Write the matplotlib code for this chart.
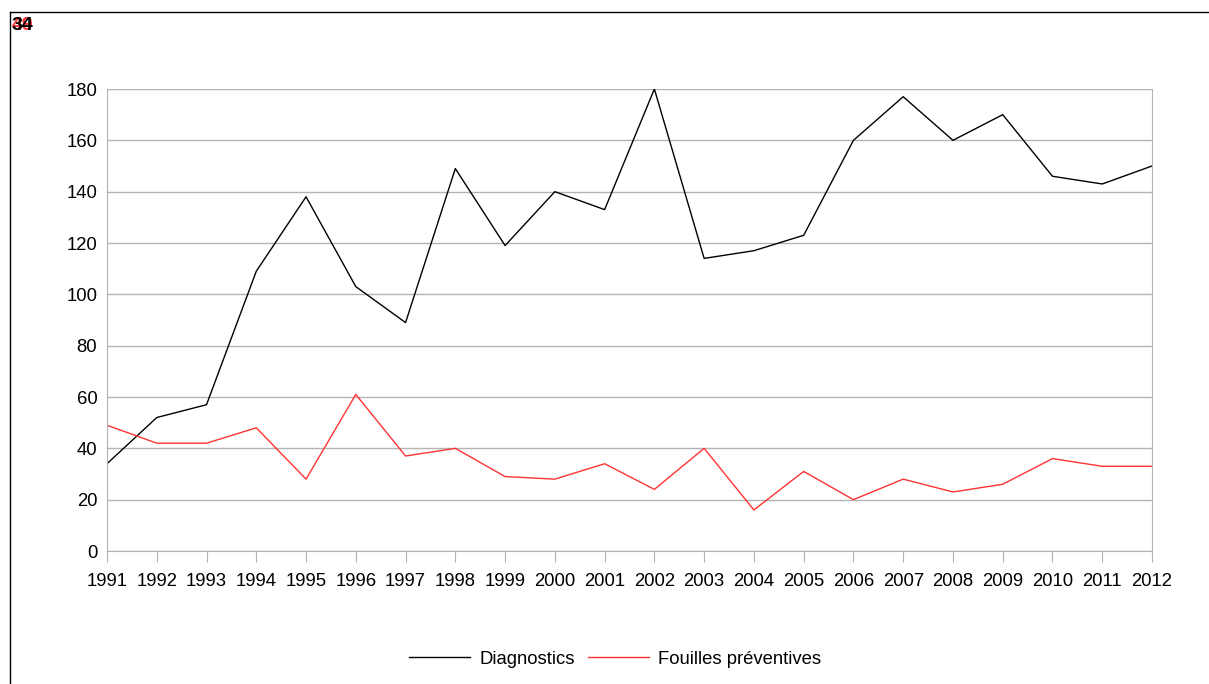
import matplotlib.pyplot as plt
from matplotlib.lines import Line2D

years = list(range(1991, 2013))
diagnostics = [34, 52, 57, 109, 138, 103, 89, 149, 119, 140, 133, 180,
               114, 117, 123, 160, 177, 160, 170, 146, 143, 150]
fouilles = [49, 42, 42, 48, 28, 61, 37, 40, 29, 28, 34, 24,
            40, 16, 31, 20, 28, 23, 26, 36, 33, 33]
yticks = list(range(0, 181, 20))

plt.rcParams['font.family'] = ['Liberation Sans', 'DejaVu Sans']

fig = plt.figure(figsize=(12.09, 6.84), dpi=100)
ax = fig.add_axes([107/1209, 1 - 551/684, (1152 - 107)/1209, (551 - 89)/684])

ax.plot(years, diagnostics, color='black', lw=1, label='Diagnostics')
ax.plot(years, fouilles, color='#ff3333', lw=1, label='Fouilles préventives')

ax.set_xlim(1991, 2012)
ax.set_ylim(0, 180)
ax.set_xticks(years)
ax.set_yticks(yticks)
ax.tick_params(axis='x', length=8, color='#b3b3b3', labelsize=13.3, pad=8)
ax.tick_params(axis='y', length=0, labelsize=13.3, pad=7)
ax.grid(axis='y', color='#b3b3b3', lw=1)
ax.set_axisbelow(True)
ax.spines['top'].set_visible(False)
for side in ['left', 'right', 'bottom']:
    ax.spines[side].set_color('#b3b3b3')

# outer frame lines
fig.add_artist(Line2D([10/1209, 1], [1 - 12/684, 1 - 12/684], color='black', lw=1))
fig.add_artist(Line2D([10/1209, 10/1209], [0, 1 - 12/684], color='black', lw=1))

# overlapping leftover labels
fig.text(12/1209, 1 - 25/684, '49', color='#ff3333', fontsize=14, fontweight='bold', va='center')
fig.text(12/1209, 1 - 25/684, '34', color='black', fontsize=14, fontweight='bold', va='center')

fig.legend(loc='center', bbox_to_anchor=(615/1209, 1 - 659/684), ncol=2, frameon=False,
           fontsize=13.3, handlelength=3.3, handletextpad=0.5, columnspacing=0.7)

fig.savefig('out.png', dpi=100)
